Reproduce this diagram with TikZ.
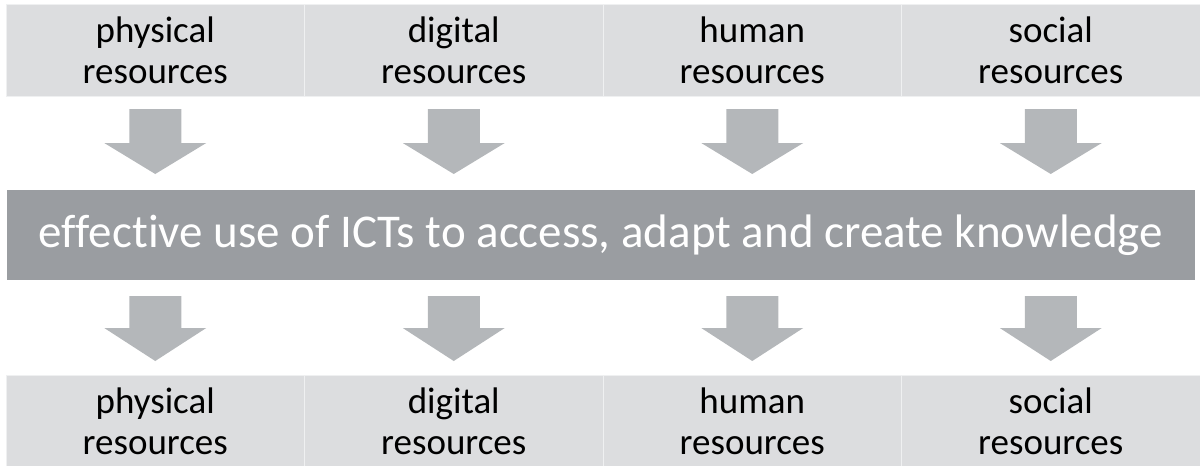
\documentclass[tikz,border=0pt]{standalone}
\usepackage{fontspec}
\setmainfont{Carlito}[Ligatures=NoCommon]
\usetikzlibrary{positioning}
\definecolor{boxgray}{HTML}{DCDDDF}
\definecolor{arrowgray}{HTML}{B4B7BA}
\definecolor{bandgray}{HTML}{9A9DA1}

\begin{document}
\begin{tikzpicture}[x=1pt, y=-1pt,
    resbox/.style={fill=boxgray, draw=white!55!boxgray, line width=0.6pt,
        minimum width=298.5pt, minimum height=92pt, inner sep=0pt, outer sep=0pt,
        align=center, font=\fontsize{37}{41}\selectfont},
    band/.style={fill=bandgray, text=white, minimum width=1188pt, minimum height=90pt,
        inner sep=0pt, font=\fontsize{47}{52}\selectfont},
    blockarrow/.style={fill=arrowgray}]
\useasboundingbox (0,0) rectangle (1200,466);

% top row
\node[resbox] (tp) at (155.25,50) {physical\\resources};
\node[resbox, right=0pt of tp] (td) {digital\\resources};
\node[resbox, right=0pt of td] (th) {human\\resources};
\node[resbox, right=0pt of th] (ts) {social\\resources};

% middle band
\node[band] (ict) at (601,235) {effective use of ICTs to access, adapt and create knowledge};

% bottom row
\node[resbox] (bp) at (155.25,421) {physical\\resources};
\node[resbox, right=0pt of bp] (bd) {digital\\resources};
\node[resbox, right=0pt of bd] (bh) {human\\resources};
\node[resbox, right=0pt of bh] (bs) {social\\resources};

% arrows
\foreach \n in {tp,td,th,ts}
    \fill[blockarrow, shift={(\n.south)}] (-26,13) -- (26,13) -- (26,47) -- (51,47)
        -- (0,78) -- (-51,47) -- (-26,47) -- cycle;
\foreach \n in {bp,bd,bh,bs}
    \fill[blockarrow, shift={(\n.north)}] (-26,-79) -- (26,-79) -- (26,-47) -- (51,-47)
        -- (0,-14) -- (-51,-47) -- (-26,-47) -- cycle;
\end{tikzpicture}
\end{document}
